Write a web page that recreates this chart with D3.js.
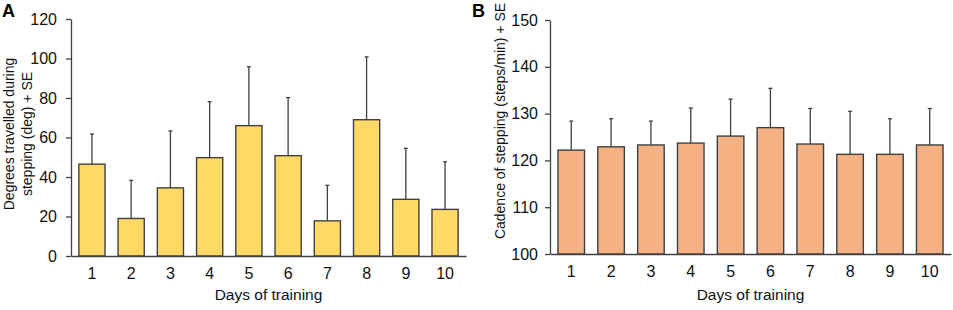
<!DOCTYPE html>
<html><head><meta charset="utf-8">
<script src="https://cdn.jsdelivr.net/npm/d3@7"></script>
<style>
html,body{margin:0;padding:0;background:#fff;}
svg{display:block;font-family:"Liberation Sans",Arial,sans-serif;}
</style></head>
<body><svg id="c" width="953" height="310"></svg>
<script>
const days = ["1","2","3","4","5","6","7","8","9","10"];
const degreesMean = [46.5, 19.0, 34.5, 49.8, 66.0, 50.8, 17.8, 69.0, 28.7, 23.6];
const degreesSE   = [15.3, 19.3, 28.8, 28.3, 29.8, 29.4, 18.0, 31.8, 25.8, 24.1];
const cadenceMean = [122.2, 122.9, 123.3, 123.7, 125.2, 127.0, 123.5, 121.3, 121.3, 123.3];
const cadenceSE   = [6.2, 6.0, 5.1, 7.5, 7.9, 8.4, 7.6, 9.2, 7.6, 7.8];
const degreesTicks = [0, 20, 40, 60, 80, 100, 120];
const cadenceTicks = [100, 110, 120, 130, 140, 150];

const svg = d3.select("#c");
const stroke = "#404040";
const FONT = "Liberation Sans, Arial, sans-serif";

function panel(opt) {
  const g = svg.append("g");
  const x = d3.scaleBand().domain(days).range([opt.x0, opt.x1]).paddingInner(0.333).paddingOuter(0.2);
  const y = d3.scaleLinear().domain(opt.domain).range([opt.yb, opt.yt]);

  // bars
  g.selectAll("rect.bar").data(days).join("rect")
    .attr("x", d => x(d)).attr("width", x.bandwidth())
    .attr("y", (d,i) => y(opt.mean[i]))
    .attr("height", (d,i) => y(opt.domain[0]) - y(opt.mean[i]))
    .attr("fill", opt.fill).attr("stroke", stroke).attr("stroke-width", 1.4);

  // error bars
  const eb = g.selectAll("g.eb").data(days).join("g");
  eb.append("line")
    .attr("x1", d => x(d) + x.bandwidth()/2).attr("x2", d => x(d) + x.bandwidth()/2)
    .attr("y1", (d,i) => y(opt.mean[i])).attr("y2", (d,i) => y(opt.mean[i] + opt.se[i]))
    .attr("stroke", stroke).attr("stroke-width", 1.3);
  eb.append("line")
    .attr("x1", d => x(d) + x.bandwidth()/2 - 2).attr("x2", d => x(d) + x.bandwidth()/2 + 2)
    .attr("y1", (d,i) => y(opt.mean[i] + opt.se[i])).attr("y2", (d,i) => y(opt.mean[i] + opt.se[i]))
    .attr("stroke", stroke).attr("stroke-width", 1.3);

  // y axis
  const ya = g.append("g").attr("transform", `translate(${opt.x0},0)`)
    .call(d3.axisLeft(y).tickValues(opt.ticks).tickSize(5).tickPadding(opt.tickPad).tickSizeOuter(0));
  ya.select(".domain").attr("stroke", stroke).attr("stroke-width", 1.3);
  ya.selectAll(".tick line").attr("stroke", stroke).attr("stroke-width", 1.3);
  ya.selectAll("text").attr("font-size", 16).attr("fill", "#111").attr("font-family", FONT);

  // x axis
  const xa = g.append("g").attr("transform", `translate(0,${opt.yb})`)
    .call(d3.axisBottom(x).tickSize(0).tickPadding(12).tickSizeOuter(0));
  xa.select(".domain").attr("stroke", stroke).attr("stroke-width", 1.3);
  xa.selectAll("text").attr("font-size", 16).attr("fill", "#111").attr("font-family", FONT);

  g.append("text").attr("x", (opt.x0 + opt.x1)/2).attr("y", 300)
    .attr("text-anchor", "middle").attr("font-size", 15.5).attr("fill", "#111").text("Days of training");

  // y title
  const yt = g.append("text").attr("transform", `translate(${opt.titleX},${opt.titleY}) rotate(-90)`)
    .attr("text-anchor", "middle").attr("font-size", 14).attr("fill", "#111");
  opt.title.forEach((t, i) => {
    yt.append("tspan").attr("x", 0).attr("dy", i === 0 ? 0 : 18).text(t);
  });

  g.append("text").attr("x", opt.labelX).attr("y", 17).attr("font-size", 18)
    .attr("font-weight", "bold").attr("fill", "#000").text(opt.label);
}

panel({x0: 71, x1: 466, yb: 256, yt: 19, domain: [0, 120], ticks: degreesTicks,
  mean: degreesMean, se: degreesSE, fill: "#FFD966", tickPad: 9,
  title: ["Degrees travelled during", "stepping (deg) + SE"], titleX: 14, titleY: 134,
  label: "A", labelX: 2});

panel({x0: 550, x1: 951, yb: 254, yt: 20, domain: [100, 150], ticks: cadenceTicks,
  mean: cadenceMean, se: cadenceSE, fill: "#F4B183", tickPad: 7,
  title: ["Cadence of stepping (steps/min) + SE"], titleX: 505, titleY: 121,
  label: "B", labelX: 472});
</script></body></html>
